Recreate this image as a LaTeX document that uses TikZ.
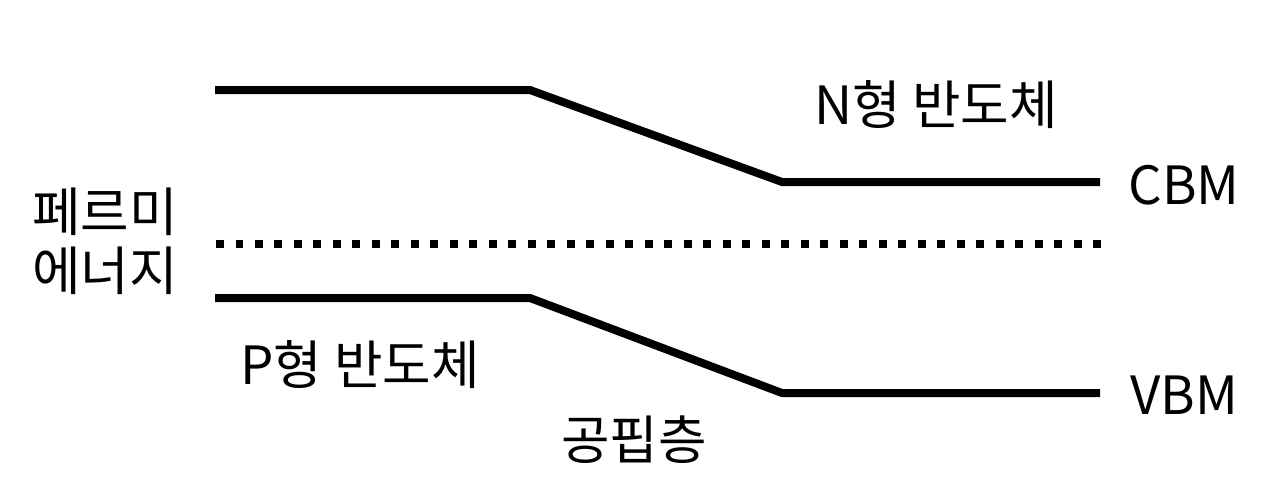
\documentclass[tikz,border=0pt]{standalone}
\usepackage{fontspec}
\setmainfont{Noto Sans CJK KR}
\usepackage{tikz}
\usetikzlibrary{positioning}

\begin{document}
\begin{tikzpicture}[
  x=0.02cm,y=-0.02cm,
  band/.style={line width=0.16cm,line join=miter},
  fermi/.style={line width=0.16cm,dash pattern=on 0.16cm off 0.23cm},
  lbl/.style={font=\fontsize{30}{33.6}\selectfont,inner sep=0pt,align=center},
]
\useasboundingbox (0,0) rectangle (1280,501);
% band edges
\coordinate (cbmL) at (215,90);
\coordinate (cbmA) at (530,90);
\coordinate (cbmB) at (782,182);
\coordinate (cbmR) at (1100,182);
\coordinate (vbmL) at (215,298);
\coordinate (vbmA) at (530,298);
\coordinate (vbmB) at (782,393);
\coordinate (vbmR) at (1100,393);
\coordinate (efL) at (216,244);
\coordinate (efR) at (1104,244);
\draw[band] (cbmL) -- (cbmA) -- (cbmB) -- (cbmR);
\draw[band] (vbmL) -- (vbmA) -- (vbmB) -- (vbmR);
\draw[fermi] (efL) -- (efR);
% labels
\node[lbl] (ntype) at (936,105) {N형 반도체};
\node[lbl] (cbm) at (1184,185) {CBM};
\node[lbl] (vbm) at (1184,395) {VBM};
\node[lbl] (ef) at (105,241) {페르미\\에너지};
\node[lbl] (ptype) at (360,365) {P형 반도체};
\node[lbl] (depl) at (634,440) {공핍층};
\end{tikzpicture}
\end{document}
